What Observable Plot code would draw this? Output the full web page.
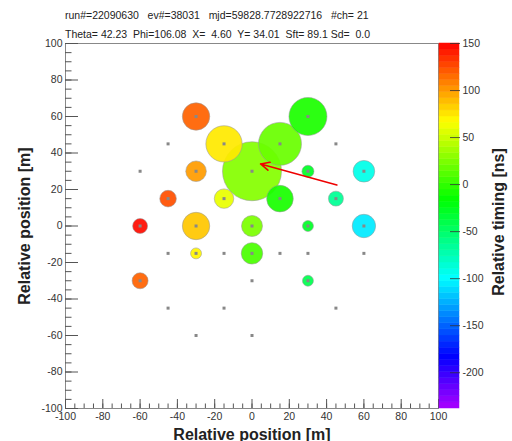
<!DOCTYPE html>
<html><head><meta charset="utf-8">
<script src="https://cdn.jsdelivr.net/npm/d3@7"></script>
<script src="https://cdn.jsdelivr.net/npm/@observablehq/plot@0.6"></script>
<style>
html,body{margin:0;padding:0;background:#fff;}
#wrap{position:relative;width:512px;height:441px;overflow:hidden;font-family:"Liberation Sans",Arial,Helvetica,sans-serif;}
#wrap svg{position:absolute;top:0;}
.hdr{position:absolute;left:65px;font-size:10.5px;color:#222;white-space:pre;line-height:1;}
.title{position:absolute;font-weight:bold;font-size:16px;color:#222;white-space:nowrap;line-height:1;}
</style></head><body><div id="wrap"></div>
<script>
// Header text
const headerLine1 = "run#=22090630   ev#=38031   mjd=59828.7728922716   #ch= 21";
const headerLine2 = "Theta= 42.23  Phi=106.08  X=  4.60  Y= 34.01  Sft= 89.1 Sd=  0.0";
const xTitle = "Relative position [m]";
const yTitle = "Relative position [m]";
const zTitle = "Relative timing [ns]";

// All detector stations (m)
const stationX = [-30, 30, -45, -15, 15, 45, -60, -30, 0, 30, 60, -45, -15, 15, 45, -60, -30, 0, 30, 60, -45, -30, -15, 0, 15, 30, 60, -60, 0, 30, -45, -15, 45, -30, 0];
const stationY = [60, 60, 45, 45, 45, 45, 30, 30, 30, 30, 30, 15, 15, 15, 15, 0, 0, 0, 0, 0, -15, -15, -15, -15, -15, -15, -15, -30, -30, -30, -45, -45, -45, -60, -60];

// Hit stations: position (m), charge (a.u.), relative timing (ns)
const hitX = [-30, 30, -15, 15, -30, 0, 30, 60, -45, -15, 15, 45, -60, -30, 0, 30, 60, -30, 0, -60, 30];
const hitY = [60, 60, 45, 45, 30, 30, 30, 30, 15, 15, 15, 15, 0, 0, 0, 0, 0, -15, -15, -30, -30];
const hitCharge = [188, 361, 330, 462, 106, 870, 36, 117, 69, 95, 177, 56, 56, 188, 110, 30, 137, 30, 115, 64, 30];
const hitTime = [118, -7, 74, 18, 99, 27, -29, -92, 124, 60, -8, -65, 146, 85, 24, -29, -106, 70, 8, 118, -42];

// Arrow: core position and direction tail
const arrowFromX = [45.5], arrowFromY = [22.5];
const arrowToX = [4.60], arrowToY = [34.01];

// Axes
const posDomain = [-100, 100];
const posTicks = [-100, -80, -60, -40, -20, 0, 20, 40, 60, 80, 100];
const posMinor = d3.range(-100, 100.1, 5);
const timingDomain = [-238, 150];
const timingTicks = [-200, -150, -100, -50, 0, 50, 100, 150];

const stations = stationX.map((x, i) => ({x, y: stationY[i]}));
const hits = hitX.map((x, i) => ({x, y: hitY[i], q: hitCharge[i], t: hitTime[i]}));
const arrows = arrowFromX.map((x, i) => ({x1: x, y1: arrowFromY[i], x2: arrowToX[i], y2: arrowToY[i]}));

const palette = t => d3.hsl(280 * (1 - t), 1, 0.5).formatHex();
const colorScale = {type: "linear", domain: timingDomain, interpolate: () => palette, clamp: true};
const font = '"Liberation Sans", Arial, Helvetica, sans-serif';
const fmt = d => String(d);

const main = Plot.plot({
  width: 512, height: 441,
  marginLeft: 65, marginRight: 74, marginTop: 43, marginBottom: 33,
  style: {fontFamily: font, fontSize: "10.5px", color: "#333", background: "transparent"},
  x: {domain: posDomain, label: null},
  y: {domain: posDomain, label: null},
  r: {type: "sqrt", domain: [0, d3.max(hitCharge)], range: [0, 29.5]},
  color: colorScale,
  marks: [
    Plot.dot(hits, {x: "x", y: "y", r: "q", fill: "t", fillOpacity: 0.93, stroke: "#999", strokeOpacity: 0.55, strokeWidth: 1}),
    Plot.dot(stations, {x: "x", y: "y", symbol: "square", r: 1.7, fill: "#888"}),
    Plot.arrow(arrows, {x1: "x1", y1: "y1", x2: "x2", y2: "y2", stroke: "#ee0000", strokeWidth: 1.6, headLength: 9, headAngle: 50}),
    Plot.frame({stroke: "#888"}),
    Plot.axisX(posMinor, {tickSize: -4.5, fill: "none", stroke: "#555", label: null}),
    Plot.axisX(posTicks, {tickSize: -9, fill: "none", stroke: "#555", label: null}),
    Plot.axisX(posTicks, {tickSize: 0, tickPadding: 4, label: null, fill: "#333", tickFormat: fmt}),
    Plot.axisY(posMinor, {tickSize: -6.5, fill: "none", stroke: "#555", label: null}),
    Plot.axisY(posTicks, {tickSize: -13, fill: "none", stroke: "#555", label: null}),
    Plot.axisY(posTicks, {tickSize: 0, tickPadding: 3, label: null, fill: "#333", tickFormat: fmt})
  ]
});

const nBands = 60;
const bands = d3.range(nBands).map(i => {
  const lo = timingDomain[0] + i * (timingDomain[1] - timingDomain[0]) / nBands;
  const hi = timingDomain[0] + (i + 1) * (timingDomain[1] - timingDomain[0]) / nBands;
  return {y1: lo, y2: hi, v: (lo + hi) / 2};
});

const bar = Plot.plot({
  width: 93, height: 441,
  marginLeft: 20, marginRight: 53, marginTop: 43, marginBottom: 33,
  style: {fontFamily: font, fontSize: "10.5px", color: "#333", background: "transparent"},
  y: {domain: timingDomain, label: null},
  color: colorScale,
  marks: [
    Plot.rect(bands, {y1: "y1", y2: "y2", fill: "v", stroke: "v", strokeWidth: 0.5}),
    Plot.axisY(timingTicks, {anchor: "right", tickSize: -10, fill: "none", stroke: "#333", strokeOpacity: 0.8, label: null}),
    Plot.axisY(timingTicks, {anchor: "right", tickSize: 0, tickPadding: 3, label: null, fill: "#333", tickFormat: fmt})
  ]
});

const wrap = document.getElementById("wrap");
main.style.left = "0px";
bar.style.left = "419px";
wrap.appendChild(main);
wrap.appendChild(bar);

function addDiv(cls, text, css) {
  const d = document.createElement("div");
  d.className = cls;
  d.textContent = text;
  Object.assign(d.style, css);
  wrap.appendChild(d);
}
addDiv("hdr", headerLine1, {top: "10px"});
addDiv("hdr", headerLine2, {top: "29px"});
addDiv("title", xTitle, {left: "252px", top: "426.5px", transform: "translateX(-50%)"});
addDiv("title", yTitle, {left: "25px", top: "226px", transform: "translate(-50%,-50%) rotate(-90deg)"});
addDiv("title", zTitle, {left: "499px", top: "222px", transform: "translate(-50%,-50%) rotate(-90deg)"});
</script>
</body></html>
